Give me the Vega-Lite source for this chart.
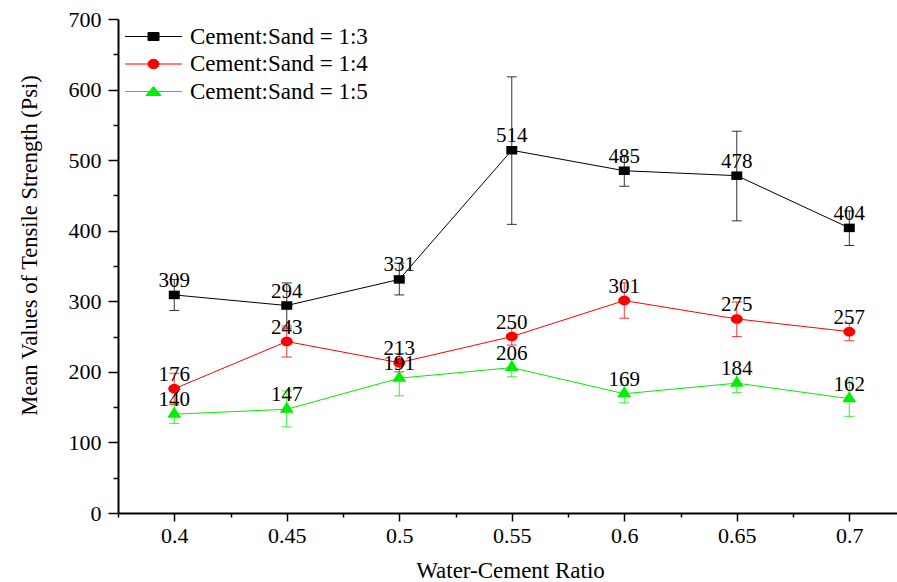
{
  "$schema": "https://vega.github.io/schema/vega-lite/v6.json",
  "width": 779,
  "height": 494,
  "autosize": {"type": "none"},
  "padding": {"left": 118, "top": 19, "right": 0, "bottom": 69},
  "background": "white",
  "config": {
    "view": {"stroke": null},
    "font": "Liberation Serif",
    "legend": {
      "orient": "none",
      "legendX": 24,
      "legendY": 6,
      "padding": 0,
      "labelFont": "Liberation Serif",
      "labelFontSize": 23,
      "labelColor": "black",
      "labelOffset": 25,
      "labelLimit": 0,
      "symbolSize": 100,
      "symbolStrokeWidth": 1,
      "symbolOpacity": 1,
      "rowPadding": 3.5
    }
  },
  "data": {
    "values": [
      {"x": 0.4, "series": "Cement:Sand = 1:3", "value": 309, "lo": 287, "hi": 331},
      {"x": 0.45, "series": "Cement:Sand = 1:3", "value": 294, "lo": 262, "hi": 326},
      {"x": 0.5, "series": "Cement:Sand = 1:3", "value": 331, "lo": 309, "hi": 354},
      {"x": 0.55, "series": "Cement:Sand = 1:3", "value": 514, "lo": 409, "hi": 618},
      {"x": 0.6, "series": "Cement:Sand = 1:3", "value": 485, "lo": 463, "hi": 505},
      {"x": 0.65, "series": "Cement:Sand = 1:3", "value": 478, "lo": 414, "hi": 541},
      {"x": 0.7, "series": "Cement:Sand = 1:3", "value": 404, "lo": 379, "hi": 428},
      {"x": 0.4, "series": "Cement:Sand = 1:4", "value": 176, "lo": 154, "hi": 198},
      {"x": 0.45, "series": "Cement:Sand = 1:4", "value": 243, "lo": 221, "hi": 265},
      {"x": 0.5, "series": "Cement:Sand = 1:4", "value": 213, "lo": 200, "hi": 226},
      {"x": 0.55, "series": "Cement:Sand = 1:4", "value": 250, "lo": 238, "hi": 262},
      {"x": 0.6, "series": "Cement:Sand = 1:4", "value": 301, "lo": 276, "hi": 326},
      {"x": 0.65, "series": "Cement:Sand = 1:4", "value": 275, "lo": 250, "hi": 299},
      {"x": 0.7, "series": "Cement:Sand = 1:4", "value": 257, "lo": 244, "hi": 269},
      {"x": 0.4, "series": "Cement:Sand = 1:5", "value": 140, "lo": 127, "hi": 153},
      {"x": 0.45, "series": "Cement:Sand = 1:5", "value": 147, "lo": 122, "hi": 173},
      {"x": 0.5, "series": "Cement:Sand = 1:5", "value": 191, "lo": 166, "hi": 216},
      {"x": 0.55, "series": "Cement:Sand = 1:5", "value": 206, "lo": 193, "hi": 218},
      {"x": 0.6, "series": "Cement:Sand = 1:5", "value": 169, "lo": 156, "hi": 181},
      {"x": 0.65, "series": "Cement:Sand = 1:5", "value": 184, "lo": 171, "hi": 197},
      {"x": 0.7, "series": "Cement:Sand = 1:5", "value": 162, "lo": 137, "hi": 187}
    ]
  },
  "encoding": {
    "x": {
      "field": "x",
      "type": "quantitative",
      "scale": {"domain": [0.375, 0.7212], "nice": false, "zero": false},
      "axis": {
        "values": [0.375, 0.4, 0.425, 0.45, 0.475, 0.5, 0.525, 0.55, 0.575, 0.6, 0.625, 0.65, 0.675, 0.7],
        "labelExpr": "abs(datum.value*20-round(datum.value*20))<0.001 ? format(datum.value, '.2~f') : ''",
        "tickSize": {"condition": {"test": "abs(datum.value*20-round(datum.value*20))<0.001", "value": 8}, "value": 4},
        "grid": false,
        "domainColor": "black",
        "domainWidth": 2,
        "tickColor": "black",
        "tickWidth": 1.5,
        "labelFont": "Liberation Serif",
        "labelFontSize": 22,
        "labelColor": "black",
        "labelPadding": 4,
        "labelFlush": false,
        "labelOverlap": false,
        "labelBound": false,
        "title": "Water-Cement Ratio",
        "titleFont": "Liberation Serif",
        "titleFontSize": 23,
        "titleFontWeight": "normal",
        "titleColor": "black",
        "titleX": 392,
        "titleY": 64,
        "titleAlign": "center",
        "titleBaseline": "alphabetic"
      }
    },
    "y": {
      "field": "value",
      "type": "quantitative",
      "scale": {"domain": [0, 700], "nice": false},
      "axis": {
        "values": [0, 50, 100, 150, 200, 250, 300, 350, 400, 450, 500, 550, 600, 650, 700],
        "labelExpr": "datum.value % 100 === 0 ? datum.label : ''",
        "tickSize": {"condition": {"test": "datum.value % 100 === 0", "value": 10}, "value": 5},
        "grid": false,
        "domainColor": "black",
        "domainWidth": 2,
        "tickColor": "black",
        "tickWidth": 1.5,
        "labelFont": "Liberation Serif",
        "labelFontSize": 22,
        "labelColor": "black",
        "labelPadding": 7,
        "labelOverlap": false,
        "labelBound": false,
        "title": "Mean Values of Tensile Strength (Psi)",
        "titleFont": "Liberation Serif",
        "titleFontSize": 22.5,
        "titleFontWeight": "normal",
        "titleColor": "black",
        "titleAngle": -90,
        "titleX": -82,
        "titleY": 226,
        "titleAlign": "center",
        "titleBaseline": "alphabetic"
      }
    }
  },
  "layer": [
    {
      "mark": {"type": "line", "strokeWidth": 1},
      "encoding": {
        "color": {"field": "series", "type": "nominal", "scale": {"domain": ["Cement:Sand = 1:3", "Cement:Sand = 1:4", "Cement:Sand = 1:5"], "range": ["#000000", "#ff0000", "#00ee00"]}, "legend": null}
      }
    },
    {
      "mark": {"type": "rule", "strokeWidth": 1, "opacity": 0.8},
      "encoding": {
        "y": {"field": "lo", "type": "quantitative", "title": "Mean Values of Tensile Strength (Psi)"},
        "y2": {"field": "hi"},
        "color": {"field": "series", "type": "nominal", "legend": null}
      }
    },
    {
      "mark": {"type": "tick", "orient": "horizontal", "size": 10, "thickness": 1, "opacity": 0.8},
      "encoding": {
        "y": {"field": "lo", "type": "quantitative", "title": "Mean Values of Tensile Strength (Psi)"},
        "color": {"field": "series", "type": "nominal", "legend": null}
      }
    },
    {
      "mark": {"type": "tick", "orient": "horizontal", "size": 10, "thickness": 1, "opacity": 0.8},
      "encoding": {
        "y": {"field": "hi", "type": "quantitative", "title": "Mean Values of Tensile Strength (Psi)"},
        "color": {"field": "series", "type": "nominal", "legend": null}
      }
    },
    {
      "mark": {"type": "point", "filled": true, "opacity": 1, "size": 100, "strokeWidth": 0},
      "encoding": {
        "color": {"field": "series", "type": "nominal", "legend": null},
        "shape": {
          "field": "series",
          "type": "nominal",
          "scale": {
            "domain": ["Cement:Sand = 1:3", "Cement:Sand = 1:4", "Cement:Sand = 1:5"],
            "range": [
              "M-1.1,-0.85H1.1V0.85H-1.1Z",
              "M1.2,0A1.2,0.95,0,1,1,-1.2,0A1.2,0.95,0,1,1,1.2,0Z",
              "M0,-1.5L1.4,0.7L-1.4,0.7Z"
            ]
          },
          "legend": null
        }
      }
    },
    {
      "mark": {"type": "text", "fontSize": 21, "baseline": "alphabetic", "dy": -8, "color": "black", "font": "Liberation Serif"},
      "encoding": {
        "text": {"field": "value", "type": "quantitative"}
      }
    },
    {
      "mark": {"type": "point", "filled": true, "opacity": 0},
      "encoding": {
        "fill": {"field": "series", "type": "nominal", "scale": {"domain": ["Cement:Sand = 1:3", "Cement:Sand = 1:4", "Cement:Sand = 1:5"], "range": ["#000000", "#ff0000", "#00ee00"]}, "legend": {"title": null}},
        "stroke": {"field": "series", "type": "nominal", "scale": {"domain": ["Cement:Sand = 1:3", "Cement:Sand = 1:4", "Cement:Sand = 1:5"], "range": ["#000000", "#ff0000", "#00ee00"]}, "legend": {"title": null}},
        "shape": {
          "field": "series",
          "type": "nominal",
          "scale": {
            "domain": ["Cement:Sand = 1:3", "Cement:Sand = 1:4", "Cement:Sand = 1:5"],
            "range": [
              "M-5.7,0H5.7M-1.1,-0.8H1.1V0.8H-1.1Z",
              "M-5.7,0H5.7M1.1,0A1.1,0.95,0,1,1,-1.1,0A1.1,0.95,0,1,1,1.1,0Z",
              "M-5.7,0H5.7M0,-1L1.5,0.8L-1.5,0.8Z"
            ]
          },
          "legend": {"title": null}
        }
      }
    }
  ],
  "resolve": {
    "scale": {"shape": "independent", "fill": "independent", "stroke": "independent"},
    "legend": {"shape": "independent", "fill": "independent", "stroke": "independent"}
  }
}
